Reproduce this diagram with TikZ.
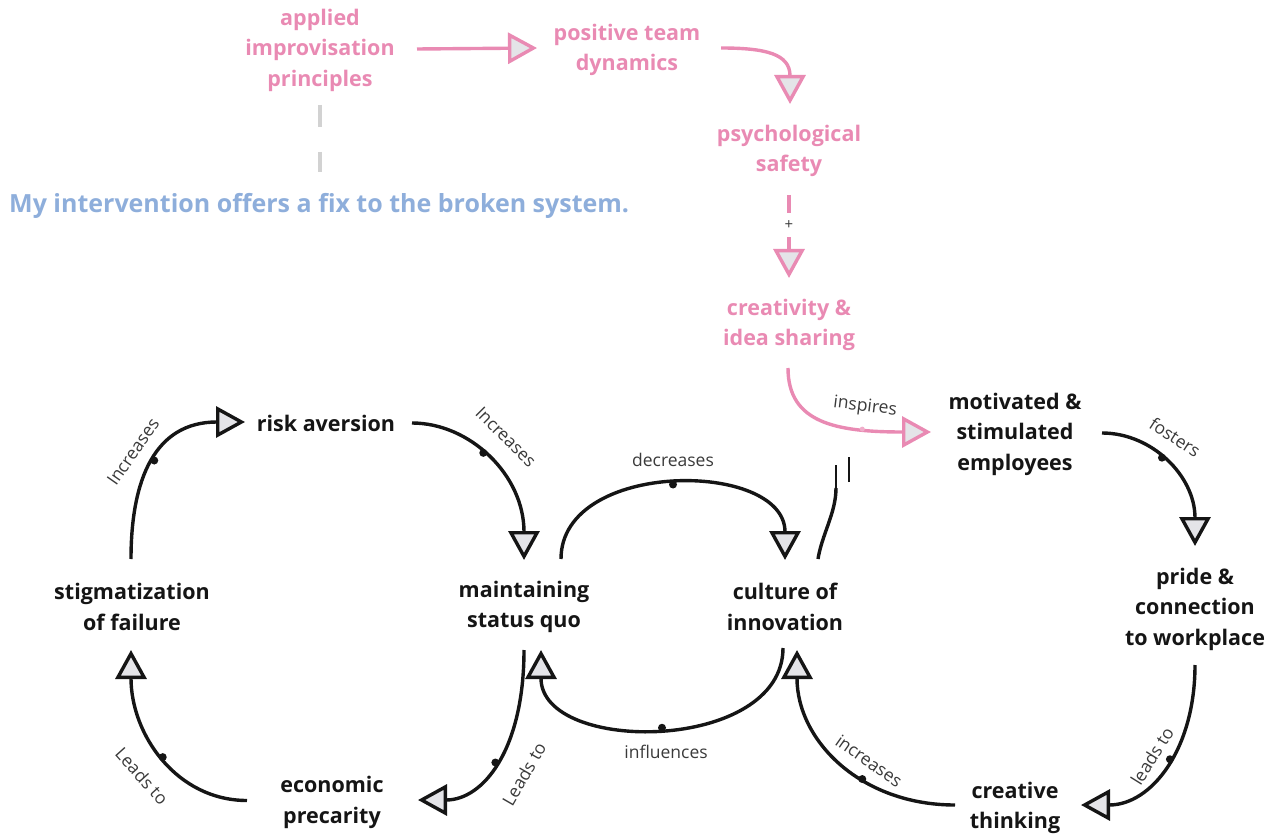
\documentclass[tikz,border=0pt]{standalone}
\usepackage{fontspec}
\setmainfont{Open Sans}
\usetikzlibrary{arrows.meta}

\definecolor{rose}{HTML}{E98AB3}
\definecolor{sky}{HTML}{8EAEDB}
\definecolor{ink}{HTML}{151515}
\definecolor{tipfill}{HTML}{E4E4E8}
\definecolor{labelgray}{HTML}{3A3A3A}
\definecolor{dashgray}{HTML}{D2D2D2}

\begin{document}
\begin{tikzpicture}[x=1pt,y=-1pt,
  concept/.style={font=\fontsize{21.5}{30.5}\selectfont\bfseries, text=ink, align=center, inner sep=0pt},
  fixconcept/.style={concept, text=rose},
  claimtext/.style={font=\fontsize{25}{30}\selectfont\bfseries, text=sky, inner sep=0pt, anchor=west},
  link/.style={line width=3.4pt, draw=ink, -{Triangle[length=29pt,width=31pt,fill=tipfill,line width=3.4pt]}},
  fixlink/.style={link, draw=rose},
  plainlink/.style={line width=3.4pt, draw=ink},
  tick/.style={line width=2.2pt, draw=ink},
  graydash/.style={line width=4pt, draw=dashgray, dash pattern=on 22pt off 25pt on 24pt},
  dot/.style={circle, fill=ink, inner sep=0pt, minimum size=8pt},
  pinkdot/.style={circle, fill=rose!70, inner sep=0pt, minimum size=5pt},
  lbl/.style={font=\fontsize{17.5}{20}\selectfont, text=labelgray, inner sep=0pt},
  sign/.style={font=\fontsize{15}{16}\selectfont, text=labelgray, fill=white, minimum height=24pt, inner sep=0pt}
]
\useasboundingbox (0,0) rectangle (1275,834);

% ---- intervention chain (pink) ----
\node[fixconcept] (applied) at (320,50) {applied\\improvisation\\principles};
\node[fixconcept] (positive) at (627,50) {positive team\\dynamics};
\node[fixconcept] (psych) at (789,151) {psychological\\safety};
\node[fixconcept] (creat) at (789,325) {creativity \&\\idea sharing};
\node[claimtext] (claim) at (9,206) {My intervention offers a fix to the broken system.};

% ---- system variables ----
\node[concept] (motiv) at (1015,434) {motivated \&\\stimulated\\employees};
\node[concept] (risk) at (326,423) {risk aversion};
\node[concept] (stigma) at (132,607) {stigmatization\\of failure};
\node[concept] (maint) at (524,607) {maintaining\\status quo};
\node[concept] (culture) at (785,607) {culture of\\innovation};
\node[concept] (pride) at (1195,609) {pride \&\\connection\\to workplace};
\node[concept] (econ) at (332,802.5) {economic\\precarity};
\node[concept] (creative) at (1015,808) {creative\\thinking};

% ---- pink links ----
\draw[fixlink] ([shift={(97,-1)}]applied.center) -- ([shift={(-90,-2)}]positive.center);
\draw[fixlink] ([shift={(94,-2)}]positive.center) .. controls +(45,0) and +(0,-50) .. ([shift={(1,-47)}]psych.center);
\draw[fixlink] ([shift={(0,44)}]psych.center) -- node[sign, pos=0.36] (plus) {+} ([shift={(0,-47)}]creat.center);
\draw[fixlink] ([shift={(-1,43)}]creat.center) .. controls +(0,55) and +(-95,0) .. node[pinkdot, pos=0.72] (inspdot) {} ([shift={(-84,-2)}]motiv.center);
\node[lbl, rotate=-7] (inspires) at (865,407) {inspires};

% ---- grey tie to the claim ----
\draw[graydash] ([shift={(0,55)}]applied.center) -- ([shift={(311,-34)}]claim.west);

% ---- black links ----
\draw[link] ([shift={(-1,-48)}]stigma.center) .. controls +(0,-80) and +(-90,0) .. node[dot, pos=0.5] (d1) {} ([shift={(-81,-1)}]risk.center);
\node[lbl, rotate=55] (l1) at (133,452) {Increases};

\draw[link] ([shift={(86,0)}]risk.center) .. controls +(58,0) and +(0,-85) .. node[dot, pos=0.45] (d2) {} ([shift={(0,-47)}]maint.center);
\node[lbl, rotate=-45] (l2) at (506,437) {Increases};

\draw[link] ([shift={(37,-48)}]maint.center) .. controls +(0,-100) and +(0,-100) .. node[dot, pos=0.5] (d3) {} ([shift={(0,-47)}]culture.center);
\node[lbl] (l3) at (673,460) {decreases};

\coordinate (brk1) at (836,488);
\coordinate (brkTop) at (836,465);
\coordinate (brk2a) at (849,482);
\coordinate (brk2b) at (849,457);
\draw[plainlink] ([shift={(33,-48)}]culture.center) .. controls +(4,-25) and +(0,25) .. (brk1);
\draw[tick] (brk1) -- (brkTop);
\draw[tick] (brk2a) -- (brk2b);

\draw[link] ([shift={(87,-1)}]motiv.center) .. controls +(50,0) and +(0,-70) .. node[dot, pos=0.45] (d4) {} ([shift={(0,-63)}]pride.center);
\node[lbl, rotate=-33] (l4) at (1175,437) {fosters};

\draw[link] ([shift={(0,56)}]pride.center) .. controls +(0,85) and +(70,0) .. node[dot, pos=0.45] (d5) {} ([shift={(66,-3)}]creative.center);
\node[lbl, rotate=58] (l5) at (1152,756) {leads to};

\draw[link] ([shift={(-60,-3)}]creative.center) .. controls +(-95,0) and +(0,90) .. node[dot, pos=0.38] (d6) {} ([shift={(12,43)}]culture.center);
\node[lbl, rotate=-35] (l6) at (869,761) {increases};

\draw[link] ([shift={(-2,41)}]culture.center) .. controls +(0,105) and +(0,105) .. node[dot, pos=0.5] (d7) {} ([shift={(17,43)}]maint.center);
\node[lbl] (l7) at (666,752) {influences};

\draw[link] ([shift={(0,43)}]maint.center) .. controls +(0,100) and +(65,0) .. node[dot, pos=0.5] (d8) {} ([shift={(86,-2.5)}]econ.center);
\node[lbl, rotate=60] (l8) at (524,774) {Leads to};

\draw[link] ([shift={(-85,-2)}]econ.center) .. controls +(-70,0) and +(0,85) .. node[dot, pos=0.5] (d9) {} ([shift={(-1,43)}]stigma.center);
\node[lbl, rotate=-48] (l9) at (142,776) {Leads to};
\end{tikzpicture}
\end{document}
